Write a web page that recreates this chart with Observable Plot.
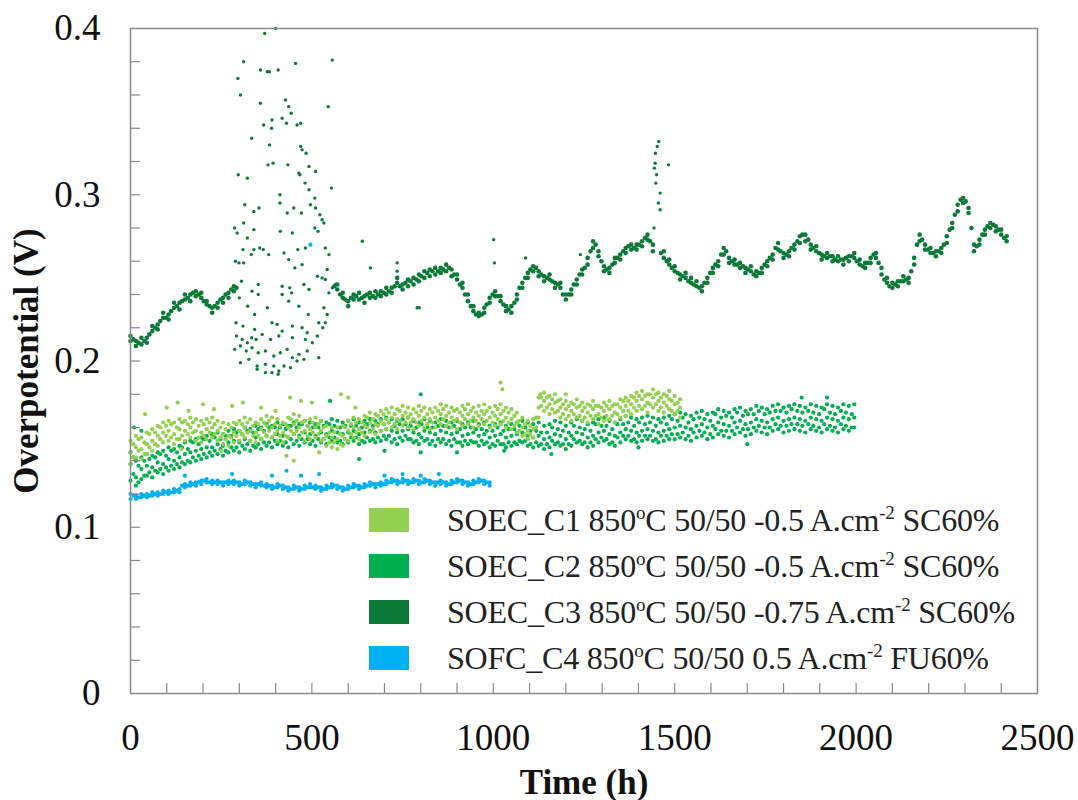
<!DOCTYPE html>
<html>
<head>
<meta charset="utf-8">
<script src="https://cdn.jsdelivr.net/npm/d3@7"></script>
<script src="https://cdn.jsdelivr.net/npm/@observablehq/plot@0.6"></script>
<style>
  html, body { margin: 0; padding: 0; background: #fff; }
  #wrap { position: relative; width: 1078px; height: 800px; font-family: "Liberation Serif", "Times New Roman", serif; }
  #legend { position: absolute; left: 0; top: 0; }
  .lrow { position: absolute; left: 369px; height: 30px; display: flex; align-items: center; white-space: nowrap; }
  .sw { width: 40px; height: 24px; margin-right: 38px; }
  .lt { font-size: 32px; color: #222; letter-spacing: -0.2px; }
  .lt sup { font-size: 19px; vertical-align: 12px; line-height: 0; }
  g[aria-label="x-axis label"] text, g[aria-label="y-axis label"] text { font-weight: bold; font-size: 35px; }
</style>
</head>
<body>
<div id="wrap"></div>
<script>
// ---------------- data ----------------
const seriesNames = ["SOEC_C1", "SOEC_C2", "SOEC_C3", "SOFC_C4"];
const seriesColors = ["#92D050", "#00B050", "#0B7A38", "#00B0F0"];
const legendParts = [
  ["SOEC_C1 850", "o", "C 50/50 -0.5 A.cm", "-2", " SC60%"],
  ["SOEC_C2 850", "o", "C 50/50 -0.5 A.cm", "-2", " SC60%"],
  ["SOEC_C3 850", "o", "C 50/50 -0.75 A.cm", "-2", " SC60%"],
  ["SOFC_C4 850", "o", "C 50/50 0.5 A.cm", "-2", " FU60%"]
];
const xTickLabels = [0, 500, 1000, 1500, 2000, 2500];
const xMinorTicks = [100,200,300,400,500,600,700,800,900,1000,1100,1200,1300,1400,1500,1600,1700,1800,1900,2000,2100,2200,2300,2400];
const yTickLabels = [0, 0.1, 0.2, 0.3, 0.4];
const yMinorTicks = [0.02,0.04,0.06,0.08,0.1,0.12,0.14,0.16,0.18,0.2,0.22,0.24,0.26,0.28,0.3,0.32,0.34,0.36,0.38];

// SOEC_C1: [time h, readings...]
const c1Rows = [
[0,.145,.152,.138],[15,.148,.155,.142],[30,.147,.154,.141],[45,.150,.157,.144],[60,.152,.159,.146],[75,.155,.161,.149],[90,.157,.163,.151],[105,.158,.164,.152],[120,.156,.163,.150],[135,.159,.165,.153],[150,.158,.164,.152],[165,.160,.166,.154],[180,.158,.165,.152],[195,.157,.164,.151],[210,.159,.165,.153],[225,.160,.166,.154],[240,.158,.164,.152],[255,.156,.163,.150],[270,.155,.162,.149],[285,.157,.163,.151],[300,.158,.164,.152],[315,.160,.166,.154],[330,.158,.165,.152],[345,.157,.163,.151],[360,.159,.165,.153],[375,.161,.167,.155],[390,.160,.166,.154],[405,.158,.165,.152],[420,.157,.163,.151],[435,.160,.166,.154],[450,.162,.168,.156],[465,.160,.167,.154],[480,.158,.164,.152],[495,.159,.165,.153],[510,.160,.166,.154],[525,.158,.164,.152],[540,.155,.161,.149],[555,.154,.160,.148],[570,.153,.160,.147],[585,.155,.161,.149],[600,.158,.164,.152],[615,.160,.166,.154],[630,.159,.165,.153],[645,.161,.167,.155],[660,.163,.169,.157],[675,.162,.168,.156],[690,.164,.170,.158],[705,.165,.171,.159],[720,.166,.172,.160],[735,.165,.171,.159],[750,.167,.173,.161],[765,.166,.172,.160],[780,.165,.171,.159],[795,.167,.173,.161],[810,.166,.172,.160],[825,.165,.171,.159],[840,.166,.172,.160],[855,.168,.174,.162],[870,.167,.173,.161],[885,.166,.172,.160],[900,.165,.171,.159],[915,.167,.173,.161],[930,.168,.174,.162],[945,.166,.172,.160],[960,.167,.173,.161],[975,.168,.174,.162],[990,.166,.172,.160],[1005,.167,.173,.161],[1020,.168,.174,.162],[1035,.166,.172,.160],[1050,.165,.171,.159],[1065,.163,.169,.157],[1080,.160,.166,.155],[1095,.158,.164,.153],[1110,.159,.165,.154],[1125,.172,.178,.166],[1140,.176,.181,.170],[1155,.174,.179,.168],[1170,.175,.180,.169],[1185,.172,.177,.166],[1200,.171,.176,.165],[1215,.170,.175,.164],[1230,.172,.177,.166],[1245,.170,.175,.164],[1260,.169,.174,.163],[1275,.171,.176,.165],[1290,.168,.173,.162],[1305,.170,.175,.164],[1320,.171,.176,.165],[1335,.169,.174,.163],[1350,.172,.177,.166],[1365,.173,.178,.167],[1380,.174,.179,.168],[1395,.176,.181,.170],[1410,.177,.182,.171],[1425,.175,.180,.169],[1440,.178,.183,.172],[1455,.176,.181,.170],[1470,.175,.180,.169],[1485,.177,.182,.171],[1500,.174,.179,.168],[1515,.172,.177,.166]
];
const c1RowsB = [
[8,.150,.142],[22,.146,.153],[38,.151,.144],[52,.148,.156],[68,.157,.150],[82,.153,.160],[98,.161,.155],[112,.154,.162],[128,.160,.153],[142,.155,.163],[158,.162,.156],[172,.157,.163],[188,.161,.154],[202,.155,.162],[218,.163,.157],[232,.156,.162],[248,.160,.154],[262,.153,.159],[278,.160,.154],[292,.155,.162],[308,.162,.156],[322,.157,.163],[338,.161,.155],[352,.155,.162],[368,.163,.157],[382,.158,.164],[398,.162,.156],[412,.155,.161],[428,.162,.155],[442,.158,.165],[458,.164,.158],[472,.157,.163],[488,.161,.155],[502,.157,.163],[518,.162,.156],[532,.153,.160],[548,.157,.151],[562,.151,.157],[578,.156,.150],[592,.153,.160],[608,.162,.156],[622,.157,.163],[638,.163,.157],[652,.160,.166],[668,.165,.159],[682,.161,.167],[698,.168,.162],[712,.163,.169],[728,.168,.162],[742,.164,.170],[758,.169,.163],[772,.163,.168],[788,.169,.163],[802,.164,.170],[818,.168,.162],[832,.163,.169],[848,.170,.164],[862,.165,.171],[878,.169,.163],[892,.164,.170],[908,.169,.163],[922,.165,.171],[938,.170,.164],[952,.164,.169],[968,.170,.165],[982,.164,.170],[998,.169,.163],[1012,.165,.171],[1028,.170,.164],[1042,.163,.169],[1058,.167,.161],[1072,.158,.164],[1088,.162,.156],[1102,.156,.161],[1118,.166,.160],[1132,.178,.173],[1148,.172,.178],[1162,.177,.171],[1178,.170,.176],[1192,.174,.168],[1208,.167,.173],[1222,.174,.168],[1238,.167,.173],[1252,.172,.166],[1268,.167,.173],[1282,.173,.167],[1298,.166,.172],[1312,.173,.167],[1328,.167,.173],[1342,.174,.168],[1358,.170,.176],[1372,.176,.170],[1388,.172,.178],[1402,.179,.173],[1418,.173,.179],[1432,.180,.174],[1448,.174,.180],[1462,.178,.172],[1478,.173,.179],[1492,.176,.170],[1508,.170,.175]
];
const c1Outliers = [[40,.168],[100,.172],[130,.175],[160,.170],[200,.174],[230,.171],[280,.173],[310,.175],[360,.172],[400,.170],[440,.178],[470,.176],[500,.175],[580,.180],[600,.178],[620,.172],[140,.147],[250,.146],[430,.143],[450,.140],[520,.145],[1020,.187],[1025,.183],[1130,.180],[1200,.180]];

// SOEC_C2
const c2Rows = [
[0,.138,.145,.128],[15,.130,.140,.125],[30,.135,.142,.129],[45,.137,.144,.131],[60,.136,.143,.130],[75,.139,.145,.133],[90,.138,.146,.132],[105,.141,.148,.134],[120,.140,.147,.135],[135,.142,.149,.136],[150,.144,.151,.138],[165,.145,.152,.139],[180,.146,.153,.140],[195,.147,.154,.141],[210,.148,.155,.142],[225,.148,.156,.143],[240,.150,.157,.144],[255,.149,.156,.143],[270,.151,.158,.145],[285,.152,.159,.146],[300,.151,.158,.145],[315,.153,.160,.147],[330,.152,.159,.146],[345,.154,.161,.148],[360,.153,.160,.147],[375,.155,.162,.149],[390,.154,.161,.148],[405,.156,.163,.150],[420,.155,.162,.149],[435,.154,.161,.148],[450,.156,.163,.150],[465,.155,.162,.149],[480,.157,.164,.151],[495,.156,.163,.150],[510,.155,.162,.149],[525,.157,.164,.151],[540,.156,.163,.150],[555,.158,.165,.152],[570,.157,.164,.151],[585,.156,.163,.150],[600,.157,.164,.151],[615,.158,.165,.152],[630,.156,.163,.150],[645,.157,.164,.151],[660,.158,.165,.152],[675,.157,.164,.151],[690,.158,.165,.152],[705,.159,.166,.153],[720,.158,.165,.151],[735,.157,.164,.150],[750,.158,.165,.152],[765,.159,.166,.153],[780,.157,.164,.151],[795,.156,.163,.150],[810,.158,.165,.152],[825,.157,.164,.150],[840,.156,.163,.149],[855,.158,.165,.151],[870,.157,.164,.150],[885,.156,.163,.149],[900,.157,.164,.151],[915,.155,.162,.149],[930,.156,.163,.150],[945,.157,.164,.151],[960,.155,.162,.149],[975,.156,.163,.150],[990,.154,.161,.148],[1005,.155,.162,.149],[1020,.156,.163,.150],[1035,.154,.161,.148],[1050,.155,.162,.149],[1065,.156,.163,.150],[1080,.157,.164,.151],[1095,.155,.163,.149],[1110,.154,.162,.148],[1125,.155,.163,.149],[1140,.153,.161,.147],[1155,.154,.162,.148],[1170,.156,.164,.150],[1185,.155,.163,.149],[1200,.153,.161,.147],[1215,.155,.163,.149],[1230,.157,.165,.151],[1245,.156,.164,.150],[1260,.154,.162,.148],[1275,.155,.163,.149],[1290,.157,.165,.151],[1305,.158,.166,.152],[1320,.156,.164,.150],[1335,.155,.163,.149],[1350,.157,.165,.151],[1365,.159,.167,.153],[1380,.158,.166,.152],[1395,.157,.165,.151],[1410,.158,.166,.152],[1425,.159,.167,.153],[1440,.158,.166,.152],[1455,.157,.165,.151],[1470,.158,.166,.152],[1485,.159,.167,.153],[1500,.160,.168,.153],[1515,.161,.169,.154],[1530,.160,.168,.153],[1545,.159,.167,.152],[1560,.161,.169,.154],[1575,.162,.170,.155],[1590,.160,.168,.153],[1605,.161,.169,.154],[1620,.163,.171,.156],[1635,.162,.170,.155],[1650,.161,.169,.154],[1665,.163,.171,.156],[1680,.164,.172,.157],[1695,.162,.170,.155],[1710,.163,.171,.156],[1725,.165,.173,.158],[1740,.164,.172,.157],[1755,.163,.171,.156],[1770,.165,.173,.158],[1785,.166,.174,.159],[1800,.164,.172,.157],[1815,.165,.173,.158],[1830,.166,.174,.159],[1845,.165,.173,.158],[1860,.164,.172,.157],[1875,.166,.174,.159],[1890,.165,.173,.158],[1905,.164,.172,.157],[1920,.166,.174,.159],[1935,.165,.173,.158],[1950,.164,.172,.157],[1965,.166,.174,.159],[1980,.165,.173,.158],[1995,.166,.174,.160]
];
const c2RowsB = [
[8,.132,.142],[22,.127,.137],[38,.140,.131],[52,.133,.141],[68,.142,.134],[82,.135,.144],[98,.143,.136],[112,.137,.146],[128,.145,.138],[142,.139,.148],[158,.147,.140],[172,.142,.151],[188,.150,.143],[202,.144,.153],[218,.152,.145],[232,.146,.154],[248,.153,.147],[262,.146,.155],[278,.155,.148],[292,.148,.157],[308,.156,.149],[322,.150,.158],[338,.157,.149],[352,.150,.159],[368,.158,.151],[382,.151,.160],[398,.160,.152],[412,.152,.160],[428,.159,.151],[442,.153,.161],[458,.160,.152],[472,.153,.162],[488,.161,.153],[502,.152,.160],[518,.160,.153],[532,.153,.161],[548,.162,.154],[562,.154,.161],[578,.160,.152],[592,.153,.161],[608,.161,.154],[622,.154,.161],[638,.160,.152],[652,.154,.162],[668,.161,.153],[682,.154,.162],[698,.162,.155],[712,.155,.163],[728,.161,.153],[742,.154,.162],[758,.162,.155],[772,.153,.161],[788,.160,.152],[802,.154,.162],[818,.160,.153],[832,.152,.160],[848,.161,.153],[862,.153,.161],[878,.160,.152],[892,.153,.161],[908,.159,.151],[922,.152,.160],[938,.160,.152],[952,.151,.159],[968,.159,.152],[982,.151,.158],[998,.158,.150],[1012,.152,.160],[1028,.158,.150],[1042,.151,.159],[1058,.159,.151],[1072,.152,.161],[1088,.160,.152],[1102,.150,.158],[1118,.158,.151],[1132,.150,.157],[1148,.157,.150],[1162,.152,.160],[1178,.159,.151],[1192,.150,.158],[1208,.157,.150],[1222,.153,.161],[1238,.160,.152],[1252,.151,.159],[1268,.158,.151],[1282,.153,.162],[1298,.161,.154],[1312,.153,.161],[1328,.159,.151],[1342,.154,.162],[1358,.162,.155],[1372,.155,.163],[1388,.161,.153],[1402,.155,.163],[1418,.162,.155],[1432,.155,.163],[1448,.161,.153],[1462,.155,.163],[1478,.162,.155],[1492,.156,.165],[1508,.164,.156],[1522,.157,.166],[1538,.163,.155],[1552,.157,.165],[1568,.166,.158],[1582,.157,.165],[1598,.164,.156],[1612,.159,.168],[1628,.166,.158],[1642,.158,.167],[1658,.166,.158],[1672,.160,.169],[1688,.167,.159],[1702,.159,.168],[1718,.168,.160],[1732,.161,.170],[1748,.168,.160],[1762,.160,.169],[1778,.170,.162],[1792,.161,.170],[1808,.169,.161],[1822,.162,.171],[1838,.170,.162],[1852,.161,.169],[1868,.170,.162],[1882,.161,.169],[1898,.168,.160],[1912,.162,.171],[1928,.169,.161],[1942,.160,.168],[1958,.170,.162],[1972,.161,.169],[1988,.168,.160]
];
const c2Outliers = [[550,.176],[800,.180],[630,.141],[800,.145],[900,.145],[1850,.178],[1920,.178],[30,.158],[10,.160],[700,.146],[1030,.146],[1160,.144],[1400,.148],[1700,.150]];

// SOEC_C3
const c3Rows = [
[0,.215,.212],[15,.212,.209],[30,.210,.214],[45,.214,.211],[60,.218,.221],[75,.222,.219],[90,.226,.229],[105,.228,.225],[120,.232,.235],[135,.235,.231],[150,.237,.240],[165,.240,.236],[180,.242,.239],[195,.238,.241],[210,.234,.236],[225,.232,.229],[240,.235,.232],[255,.238,.235],[270,.241,.238],[285,.245,.242],
[570,.243,.246],[585,.238,.241],[600,.236,.233],[615,.240,.237],[630,.237,.241],[645,.239,.235],[660,.241,.238],[675,.238,.242],[690,.242,.239],[705,.240,.244],[720,.244,.241],[735,.247,.250],[750,.243,.246],[765,.249,.245],[780,.246,.250],[795,.252,.248],[810,.250,.254],[825,.255,.251],[840,.252,.256],[855,.256,.253],[870,.254,.258],[885,.255,.251],[900,.249,.252],[915,.244,.247],[930,.236,.240],[945,.230,.233],[960,.227,.229],[975,.229,.232],[990,.238,.235],[1005,.242,.239],[1020,.236,.239],[1035,.233,.230],[1050,.229,.233],[1065,.240,.237],[1080,.247,.244],[1095,.253,.250],[1110,.257,.254],[1125,.254,.251],[1140,.251,.248],[1155,.249,.252],[1170,.247,.244],[1185,.244,.247],[1200,.237,.240],[1215,.243,.240],[1230,.249,.246],[1245,.255,.252],[1260,.258,.262],[1275,.272,.268],[1290,.266,.263],[1305,.254,.257],[1320,.256,.253],[1335,.259,.262],[1350,.264,.261],[1365,.268,.265],[1380,.270,.267],[1395,.267,.270],[1410,.272,.269],[1425,.276,.273],[1440,.266,.270],[1470,.262,.266],[1485,.258,.261],[1500,.254,.257],[1515,.252,.249],[1530,.250,.253],[1545,.247,.250],[1560,.245,.248],[1575,.245,.242],[1590,.250,.247],[1605,.256,.253],[1620,.260,.257],[1635,.268,.264],[1650,.262,.259],[1665,.258,.261],[1680,.259,.256],[1695,.256,.253],[1710,.254,.257],[1725,.251,.254],[1740,.256,.253],[1755,.260,.257],[1770,.264,.261],[1785,.271,.267],[1800,.262,.265],[1815,.266,.263],[1830,.270,.267],[1845,.275,.271],[1860,.276,.272],[1875,.270,.267],[1890,.266,.269],[1905,.264,.261],[1920,.262,.265],[1935,.263,.260],[1950,.260,.263],[1965,.261,.258],[1980,.263,.260],[1995,.262,.265],[2010,.258,.261],[2025,.256,.259],[2040,.262,.259],[2055,.265,.262],[2070,.252,.256],[2085,.247,.250],[2100,.244,.247],[2115,.248,.245],[2130,.248,.251],[2145,.250,.247],[2160,.262,.258],[2175,.276,.272],[2190,.270,.267],[2205,.265,.268],[2220,.266,.263],[2235,.265,.268],[2250,.275,.271],[2265,.283,.280],[2280,.294,.290],[2295,.298,.295],[2310,.292,.289],[2325,.266,.270],[2340,.273,.270],[2355,.279,.276],[2370,.283,.280],[2385,.281,.278],[2400,.276,.279],[2415,.272,.275]
];
const c3RowsB = [
[8,.213],[22,.211],[38,.212],[52,.216],[68,.220],[82,.224],[98,.226],[112,.230],[128,.233],[142,.236],[158,.238],[172,.241],[188,.240],[202,.236],[218,.233],[232,.233],[248,.237],[262,.240],[278,.243],[292,.244],
[562,.245],[578,.240],[592,.237],[608,.238],[622,.239],[638,.238],[652,.240],[668,.239],[682,.240],[698,.241],[712,.242],[728,.245],[742,.245],[758,.247],[772,.248],[788,.249],[802,.251],[818,.253],[832,.254],[848,.254],[862,.255],[878,.256],[892,.252],[908,.246],[922,.240],[938,.233],[952,.228],[968,.228],[982,.234],[998,.240],[1012,.239],[1028,.234],[1042,.231],[1058,.235],[1072,.244],[1088,.250],[1102,.255],[1118,.256],[1132,.252],[1148,.250],[1162,.248],[1178,.246],[1192,.240],[1208,.240],[1222,.246],[1238,.252],[1252,.256],[1268,.266],[1282,.270],[1298,.260],[1312,.255],[1328,.258],[1342,.262],[1358,.266],[1372,.269],[1388,.268],[1402,.270],[1418,.274],[1432,.272],[1462,.265],[1478,.260],[1492,.256],[1508,.253],[1522,.251],[1538,.248],[1552,.246],[1568,.244],[1582,.247],[1598,.253],[1612,.258],[1628,.264],[1642,.266],[1658,.260],[1672,.258],[1688,.257],[1702,.255],[1718,.252],[1732,.253],[1748,.258],[1762,.262],[1778,.268],[1792,.266],[1808,.264],[1822,.268],[1838,.272],[1852,.276],[1868,.273],[1882,.268],[1898,.265],[1912,.263],[1928,.263],[1942,.261],[1958,.261],[1972,.262],[1988,.263],[2002,.260],[2018,.257],[2032,.259],[2048,.264],[2062,.259],[2078,.249],[2092,.245],[2108,.246],[2122,.248],[2138,.249],[2152,.254],[2168,.270],[2182,.273],[2198,.267],[2212,.265],[2228,.266],[2242,.270],[2258,.279],[2272,.288],[2288,.297],[2302,.296],[2318,.280],[2332,.269],[2348,.276],[2362,.281],[2378,.282],[2392,.279],[2408,.274]
];
// scattered C3 readings (unstable period ~290-560 h and spike ~1450 h)
const c3Scatter = [
[370,.397],[400,.400],[312,.380],[455,.379],[556,.381],[296,.370],[358,.375],[377,.374],[383,.374],[407,.375],[303,.360],[358,.355],[427,.357],[436,.353],[443,.349],[545,.353],[367,.342],[390,.345],[389,.340],[418,.346],[430,.343],[459,.342],[469,.343],[334,.334],[383,.330],[469,.329],[473,.327],[484,.325],[464,.313],[467,.312],[379,.318],[393,.319],[434,.318],[492,.317],[510,.314],[297,.312],[322,.310],[481,.307],[492,.303],[554,.304],[412,.300],[412,.295],[508,.298],[496,.294],[510,.292],[315,.294],[340,.290],[354,.292],[432,.289],[450,.292],[471,.289],[528,.285],[533,.283],[522,.288],[287,.280],[312,.283],[340,.279],[413,.278],[446,.277],[508,.280],[517,.278],[294,.277],[322,.274],[310,.267],[340,.267],[356,.268],[366,.267],[381,.264],[333,.264],[423,.265],[461,.267],[482,.268],[537,.268],[547,.264],[289,.260],[299,.259],[312,.259],[436,.261],[453,.256],[473,.258],[515,.251],[528,.250],[542,.255],[306,.248],[335,.242],[352,.246],[352,.240],[418,.245],[418,.240],[439,.244],[444,.241],[478,.246],[492,.243],[537,.249],[547,.241],[556,.244],[565,.246],[300,.238],[323,.233],[342,.228],[377,.232],[436,.236],[464,.233],[490,.228],[533,.232],[542,.228],[537,.223],[519,.223],[291,.223],[310,.221],[342,.219],[390,.223],[404,.222],[418,.218],[446,.221],[473,.220],[487,.217],[292,.215],[308,.213],[322,.211],[334,.214],[346,.213],[363,.216],[386,.213],[409,.215],[446,.214],[482,.213],[501,.211],[515,.215],[530,.220],[287,.207],[303,.209],[319,.206],[335,.208],[352,.205],[372,.206],[395,.203],[413,.205],[432,.207],[446,.202],[464,.204],[487,.206],[303,.199],[326,.201],[349,.197],[372,.198],[395,.197],[409,.194],[423,.197],[441,.196],[459,.200],[478,.201],[519,.202],[349,.195],[372,.193],[390,.193],[407,.192],
[639,.272],[661,.256],[735,.259],[735,.254],[790,.232],[796,.232],[1001,.273],[1003,.259],[1089,.262],[1240,.264],
[1443,.280],[1444,.316],[1446,.319],[1447,.325],[1448,.307],[1450,.312],[1452,.329],[1456,.332],[1455,.295],[1460,.301],[1460,.291],[1483,.318]
];

// SOFC_C4
const c4Rows = [
[0,.117,.120],[15,.119,.117],[30,.118,.120],[45,.120,.118],[60,.119,.121],[75,.121,.119],[90,.120,.122],[105,.122,.120],[120,.121,.123],[135,.123,.121],[150,.126,.124],[165,.125,.127],[180,.127,.125],[195,.128,.126],[210,.127,.129],[225,.128,.126],[240,.126,.128],[255,.127,.125],[270,.128,.126],[285,.126,.128],[300,.127,.125],[315,.126,.128],[330,.127,.125],[345,.126,.124],[360,.125,.127],[375,.126,.124],[390,.125,.123],[405,.124,.126],[420,.123,.125],[435,.124,.122],[450,.123,.125],[465,.124,.122],[480,.125,.123],[495,.124,.126],[510,.123,.125],[525,.124,.122],[540,.125,.123],[555,.124,.126],[570,.123,.125],[585,.124,.122],[600,.125,.123],[615,.124,.126],[630,.125,.123],[645,.126,.124],[660,.125,.127],[675,.126,.124],[690,.127,.125],[705,.128,.126],[720,.129,.127],[735,.128,.126],[750,.127,.129],[765,.128,.126],[780,.129,.127],[795,.128,.126],[810,.127,.129],[825,.128,.126],[840,.127,.125],[855,.126,.128],[870,.127,.125],[885,.128,.126],[900,.127,.129],[915,.126,.128],[930,.127,.125],[945,.128,.126],[960,.127,.129],[975,.126,.128],[990,.127,.125]
];
const c4RowsB = [
[8,.119],[22,.118],[38,.119],[52,.119],[68,.120],[82,.120],[98,.121],[112,.121],[128,.122],[142,.125],[158,.125],[172,.126],[188,.127],[202,.128],[218,.127],[232,.127],[248,.127],[262,.127],[278,.127],[292,.127],[308,.126],[322,.127],[338,.126],[352,.126],[368,.125],[382,.125],[398,.124],[412,.125],[428,.124],[442,.123],[458,.124],[472,.123],[488,.124],[502,.124],[518,.124],[532,.123],[548,.124],[562,.125],[578,.124],[592,.123],[608,.124],[622,.125],[638,.124],[652,.125],[668,.126],[682,.126],[698,.126],[712,.127],[728,.128],[742,.127],[758,.128],[772,.127],[788,.128],[802,.127],[818,.128],[832,.127],[848,.127],[862,.127],[878,.126],[892,.127],[908,.128],[922,.127],[938,.126],[952,.127],[968,.128],[982,.127]
];
const c4Outliers = [[150,.131],[280,.132],[390,.131],[430,.134],[470,.131],[520,.132],[700,.131],[750,.132],[800,.131],[850,.132],[496,.270]];

// ---------------- build tables ----------------
function flatten(...groups) {
  const out = [];
  for (const rows of groups) for (const r of rows) for (let i = 1; i < r.length; i++) out.push({t: r[0], v: r[i]});
  return out;
}
const d1 = flatten(c1Rows, c1RowsB, c1Outliers);
const d2 = flatten(c2Rows, c2RowsB, c2Outliers);
const d3 = flatten(c3Rows, c3RowsB);
const d3s = flatten(c3Scatter);
const d4 = flatten(c4Rows, c4RowsB, c4Outliers);

const axisGray = "#8a8a8a";
const R = 2.1;

const chart = Plot.plot({
  width: 1078, height: 800,
  marginLeft: 130, marginRight: 41, marginTop: 28, marginBottom: 107,
  style: {fontFamily: "'Liberation Serif', 'Times New Roman', serif", background: "#fff", color: "#111", overflow: "visible"},
  x: {domain: [0, 2500]},
  y: {domain: [0, 0.4]},
  marks: [
    Plot.dot(d3, {x: "t", y: "v", r: 2.3, fill: seriesColors[2]}),
    Plot.dot(d3s, {x: "t", y: "v", r: 1.7, fill: seriesColors[2]}),
    Plot.dot(d2, {x: "t", y: "v", r: R, fill: seriesColors[1]}),
    Plot.dot(d1, {x: "t", y: "v", r: R, fill: seriesColors[0]}),
    Plot.dot(d4, {x: "t", y: "v", r: R, fill: seriesColors[3]}),
    Plot.frame({stroke: axisGray, strokeWidth: 1.5}),
    Plot.axisY(yMinorTicks, {tickSize: -10, tickFormat: () => "", label: null, stroke: axisGray, strokeWidth: 1.2}),
    Plot.axisX(xMinorTicks, {tickSize: -10, tickFormat: () => "", label: null, stroke: axisGray, strokeWidth: 1.2}),
    Plot.axisY(yTickLabels, {tickSize: 0, tickPadding: 30, fontSize: 37, tickFormat: d => d === 0 ? "0" : d.toFixed(1),
      label: "Overpotential (V)", labelArrow: "none", labelAnchor: "center", labelOffset: 117}),
    Plot.axisX(xTickLabels, {tickSize: 0, tickPadding: 30, fontSize: 37, tickFormat: d => String(d),
      label: "Time (h)", labelArrow: "none", labelAnchor: "center", labelOffset: 100})
  ]
});

const wrap = document.getElementById("wrap");
wrap.appendChild(chart);

// legend (inside plot area, lower right)
const legend = document.createElement("div");
legend.id = "legend";
const rowTops = [505, 551, 597, 643];
legendParts.forEach((p, i) => {
  const row = document.createElement("div");
  row.className = "lrow";
  row.style.top = rowTops[i] + "px";
  const sw = document.createElement("div");
  sw.className = "sw";
  sw.style.background = seriesColors[i];
  const tx = document.createElement("span");
  tx.className = "lt";
  tx.append(p[0]);
  const s1 = document.createElement("sup"); s1.textContent = p[1]; tx.append(s1);
  tx.append(p[2]);
  const s2 = document.createElement("sup"); s2.textContent = p[3]; tx.append(s2);
  tx.append(p[4]);
  row.append(sw, tx);
  legend.appendChild(row);
});
wrap.appendChild(legend);
</script>
</body>
</html>
